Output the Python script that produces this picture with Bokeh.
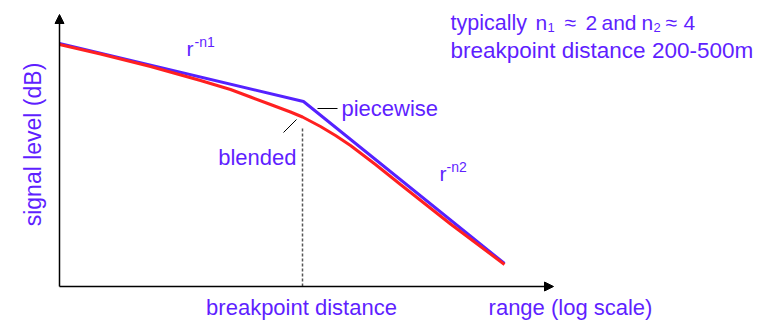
from bokeh.plotting import figure
from bokeh.models import Range1d, Arrow, NormalHead, Label
from bokeh.embed import file_html
from bokeh.resources import INLINE

# ---- data (arbitrary units: log-range position vs signal level) ----
piecewise_range = [0, 244, 445]
piecewise_level = [243, 185, 23]
blended_range = [0, 41, 91, 141, 171, 191, 211, 231, 243, 261, 276, 291, 316, 341, 391, 445]
blended_level = [242, 232.5, 220, 206, 197, 189.5, 182, 174.5, 169.5, 160, 151, 141, 122, 102, 62.5, 22]
breakpoint_range = 243
breakpoint_level_top = 158
axis_x_end = 494
axis_y_end = 272

TEXT = "#5F1FFF"
BLUE = "#5522FF"
RED = "#FF2020"
FONT = "Liberation Sans"

p = figure(width=772, height=320, output_backend="svg", toolbar_location=None,
           x_range=Range1d(-59, 713), y_range=Range1d(-34, 286),
           x_axis_type=None, y_axis_type=None, min_border=0,
           outline_line_color=None)
p.grid.visible = False

# axes with arrow heads
p.add_layout(Arrow(end=NormalHead(size=9, fill_color="black", line_color="black"),
                   x_start=0, y_start=0, x_end=0, y_end=axis_y_end,
                   line_color="black", line_width=1.5))
p.add_layout(Arrow(end=NormalHead(size=9, fill_color="black", line_color="black"),
                   x_start=0, y_start=0, x_end=axis_x_end, y_end=0,
                   line_color="black", line_width=1.5))

# breakpoint dashed line
p.line([breakpoint_range, breakpoint_range], [0, breakpoint_level_top],
       line_color="#555555", line_width=1.5, line_dash="3 2")

# curves
p.line(piecewise_range, piecewise_level, line_color=BLUE, line_width=3)
p.line(blended_range, blended_level, line_color=RED, line_width=3)

# leader lines
p.line([258, 278], [178, 178], line_color="black", line_width=1)
p.line([224, 237], [154, 167], line_color="black", line_width=1)

def txt(x, y, s, size="22px", align="left", baseline="alphabetic", angle=0):
    p.add_layout(Label(x=x, y=y, text=s, text_font=FONT, text_font_size=size,
                       text_color=TEXT, text_align=align, text_baseline=baseline,
                       angle=angle))

# labels on curves
txt(127, 238, "r", "21px")
txt(135, 245, "-n1", "14px")
txt(380, 113, "r", "21px")
txt(387, 120, "-n2", "14px")
txt(282, 178, "piecewise", "22px")
txt(237, 129, "blended", "22px", align="right")

# top-right notes
txt(391, 264, "typically", "21.5px")
txt(476, 264, "n", "21px")
txt(488, 259, "1", "13px")
txt(505, 264, "\u2248", "21px")
txt(526, 264, "2", "21px")
txt(542, 264, "and", "21px")
txt(582, 264, "n", "21px")
txt(594, 259, "2", "13px")
txt(606, 264, "\u2248", "21px")
txt(624, 264, "4", "21px")
txt(391, 236, "breakpoint distance 200-500m", "22.5px")

# axis titles
txt(242, -21, "breakpoint distance", "22px", align="center")
txt(511, -21, "range (log scale)", "22px", align="center")
txt(-27, 142, "signal level (dB)", "23px", align="center", baseline="middle",
    angle=1.5707963)

open("out.html", "w").write(file_html(p, INLINE))
